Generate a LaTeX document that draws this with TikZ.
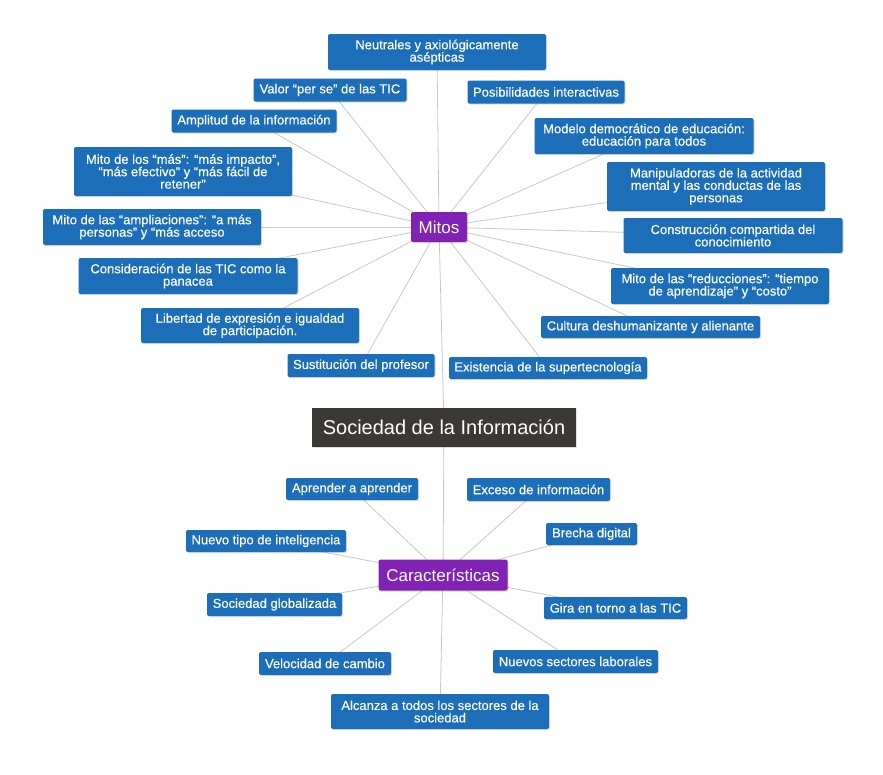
\documentclass[tikz,border=0pt]{standalone}
\usepackage{fontspec}
\setmainfont{Liberation Sans}
\newfontfamily\boxfont[FakeBold=0.35]{Liberation Sans}
\usetikzlibrary{backgrounds,shadows}
\definecolor{boxblue}{RGB}{27,110,183}
\definecolor{boxpurple}{RGB}{128,34,180}
\definecolor{boxdark}{RGB}{60,56,54}
\definecolor{linegray}{RGB}{200,200,200}
\tikzset{
  px/.style n args={2}{minimum width=#1*0.75pt, minimum height=#2*0.75pt},
  bbox/.style={fill=boxblue, text=white, rounded corners=1.5pt, inner sep=0pt, align=center,
    font=\boxfont\fontsize{9.75}{9.3}\selectfont,
    drop shadow={opacity=0.25, shadow xshift=0.8pt, shadow yshift=-0.8pt}},
  pbox/.style={fill=boxpurple, text=white, rounded corners=1.5pt, inner sep=0pt,
    font=\fontsize{12.75}{14}\selectfont,
    drop shadow={opacity=0.25, shadow xshift=0.8pt, shadow yshift=-0.8pt}},
  dbox/.style={fill=boxdark, text=white, inner sep=0pt, font=\fontsize{15}{16}\selectfont,
    drop shadow={opacity=0.25, shadow xshift=0.8pt, shadow yshift=-0.8pt}},
  conn/.style={draw=linegray, line width=0.6pt}
}
\begin{document}
\begin{tikzpicture}[x=0.75pt,y=-0.75pt]
\useasboundingbox (0,0) rectangle (883,775);
% central
\node[dbox, px={264}{39}] (soc) at (444,427) {Sociedad de la Información};
\node[pbox, px={56}{30}] (mitos) at (439,227) {Mitos};
\node[pbox, px={129}{31}] (car) at (443,575) {Características};
% mitos children
\node[bbox, px={218}{36}] (m1) at (437,52) {Neutrales y axiológicamente\\asépticas};
\node[bbox, px={153}{23}] (m2) at (330,90) {Valor “per se” de las TIC};
\node[bbox, px={165}{23}] (m3) at (254,121) {Amplitud de la información};
\node[bbox, px={218}{49}] (m4) at (183,171.5) {Mito de los “más”: “más impacto”,\\“más efectivo” y “más fácil de\\retener”};
\node[bbox, px={218}{36}] (m5) at (152,227) {Mito de las “ampliaciones”: “a más\\personas” y “más acceso};
\node[bbox, px={219}{36}] (m6) at (188,276) {Consideración de las TIC como la\\panacea};
\node[bbox, px={218}{35}] (m7) at (250,325.5) {Libertad de expresión e igualdad\\de participación.};
\node[bbox, px={147}{23}] (m8) at (361,365.5) {Sustitución del profesor};
\node[bbox, px={198}{22}] (m9) at (548,368) {Existencia de la supertecnología};
\node[bbox, px={219}{22}] (m10) at (650.5,327) {Cultura deshumanizante y alienante};
\node[bbox, px={218}{36}] (m11) at (720,286) {Mito de las “reducciones”: “tiempo\\de aprendizaje” y “costo”};
\node[bbox, px={219}{35}] (m12) at (733,235.5) {Construcción compartida del\\conocimiento};
\node[bbox, px={218}{49}] (m13) at (716,186.5) {Manipuladoras de la actividad\\mental y las conductas de las\\personas};
\node[bbox, px={219}{36}] (m14) at (644,136) {Modelo democrático de educación:\\educación para todos};
\node[bbox, px={157}{23}] (m15) at (546,92) {Posibilidades interactivas};
% caracteristicas children
\node[bbox, px={132}{22}] (c1) at (352,489) {Aprender a aprender};
\node[bbox, px={143}{23}] (c2) at (538.5,489.5) {Exceso de información};
\node[bbox, px={91}{22}] (c3) at (591.5,534) {Brecha digital};
\node[bbox, px={160}{22}] (c4) at (266,541) {Nuevo tipo de inteligencia};
\node[bbox, px={135}{23}] (c5) at (274.5,604.5) {Sociedad globalizada};
\node[bbox, px={143}{22}] (c6) at (615.5,608) {Gira en torno a las TIC};
\node[bbox, px={132}{23}] (c7) at (325,663.5) {Velocidad de cambio};
\node[bbox, px={165}{23}] (c8) at (575.5,661.5) {Nuevos sectores laborales};
\node[bbox, px={218}{35}] (c9) at (440,711.5) {Alcanza a todos los sectores de la\\sociedad};
\begin{scope}[on background layer]
  \fill[white] (0,0) rectangle (883,775);
  \draw[conn] (mitos.center) -- (soc.center);
  \draw[conn] (soc.center) -- (car.center);
  \foreach \n in {m1,m2,m3,m4,m5,m6,m7,m8,m9,m10,m11,m12,m13,m14,m15}
    \draw[conn] (mitos.center) -- (\n.center);
  \foreach \n in {c1,c2,c3,c4,c5,c6,c7,c8,c9}
    \draw[conn] (car.center) -- (\n.center);
\end{scope}
\end{tikzpicture}
\end{document}
